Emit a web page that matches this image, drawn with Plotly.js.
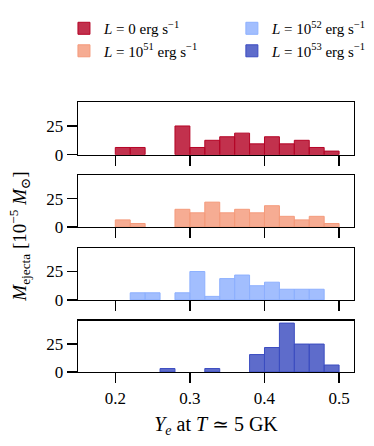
<!DOCTYPE html>
<html>
<head>
<meta charset="utf-8">
<script src="https://cdn.plot.ly/plotly-3.0.1.min.js"></script>
<style>
  body { margin: 0; background: #fff; }
  #plot { width: 374px; height: 446px; }
</style>
</head>
<body>
<div id="plot"></div>
<script>
// left edges of the Ye bins (width 0.02)
const yeBins = [0.20, 0.22, 0.24, 0.26, 0.28, 0.30, 0.32, 0.34, 0.36, 0.38, 0.40, 0.42, 0.44, 0.46, 0.48];
const binWidth = 0.02;

// ejected mass per bin, units of 1e-5 Msun
const massL0  = [6.25, 6.25, 0, 0, 25, 6.25, 12.5, 15.6, 18.75, 9.4, 15.6, 9.4, 12.5, 6.25, 3.1];
const massL51 = [6.25, 3.1, 0, 0, 15.6, 12.5, 21.9, 12.5, 15.6, 12.5, 18.75, 9.4, 6.25, 9.4, 3.1];
const massL52 = [0, 6.25, 6.25, 0, 6.25, 25, 3.1, 18.75, 21.9, 12.5, 15.6, 9.4, 9.4, 9.4, 0];
const massL53 = [0, 0, 0, 3.1, 0, 0, 3.1, 0, 0, 15.6, 21.9, 43.75, 25, 25, 6.25];

const seriesNames = [
  '<i>L</i> = 0 erg s<sup>−1</sup>',
  '<i>L</i> = 10<sup>51</sup> erg s<sup>−1</sup>',
  '<i>L</i> = 10<sup>52</sup> erg s<sup>−1</sup>',
  '<i>L</i> = 10<sup>53</sup> erg s<sup>−1</sup>'
];
const seriesColors = ['180,4,38', '244,154,123', '141,176,254', '59,76,192'];
const seriesData = [massL0, massL51, massL52, massL53];
const legendFor = ['legend', 'legend', 'legend2', 'legend2'];

const FONT = 'Liberation Serif, DejaVu Serif, serif';

const traces = seriesData.map((vals, i) => ({
  type: 'bar',
  x: yeBins,
  // empty bins are not drawn at all
  y: vals.map(v => (v === 0 ? null : v)),
  width: binWidth,
  offset: 0,
  name: seriesNames[i],
  legend: legendFor[i],
  xaxis: i === 0 ? 'x' : 'x' + (i + 1),
  yaxis: i === 0 ? 'y' : 'y' + (i + 1),
  marker: {
    color: 'rgba(' + seriesColors[i] + ',0.82)',
    line: { color: 'rgb(' + seriesColors[i] + ')', width: 1 }
  },
  hoverinfo: 'skip'
}));

// panel domains (paper, bottom-up)
const domains = [[0.805, 1.0], [0.537, 0.730], [0.267, 0.460], [0.0, 0.190]];

const legendBase = {
  xref: 'container', yref: 'container',
  y: 0.973, xanchor: 'left', yanchor: 'top',
  font: { family: FONT, size: 15 },
  itemwidth: 30, tracegroupgap: 0,
  bgcolor: 'rgba(0,0,0,0)'
};

const layout = {
  width: 374,
  height: 446,
  margin: { l: 78, r: 20, t: 102, b: 74, autoexpand: false },
  paper_bgcolor: '#fff',
  plot_bgcolor: '#fff',
  font: { family: FONT, color: '#000', size: 16 },
  showlegend: true,
  bargap: 0,
  legend: Object.assign({}, legendBase, { x: 0.171 }),
  legend2: Object.assign({}, legendBase, { x: 0.620 }),
  annotations: [{
    xref: 'paper', yref: 'paper',
    x: -0.215, y: 0.5,
    xanchor: 'center', yanchor: 'middle',
    textangle: -90,
    showarrow: false,
    text: '<i>M</i><sub>ejecta</sub> [10<sup>−5</sup> <i>M</i><sub>⊙</sub>]',
    font: { family: FONT, size: 19 }
  }]
};

for (let i = 0; i < 4; i++) {
  const sx = i === 0 ? '' : String(i + 1);
  layout['xaxis' + sx] = {
    anchor: 'y' + sx,
    range: [0.15, 0.52],
    tickvals: [0.2, 0.3, 0.4, 0.5],
    showticklabels: i === 3,
    ticks: 'outside', ticklen: 10, tickwidth: 1.3, tickcolor: '#000',
    showline: true, linecolor: '#000', linewidth: 1.3, mirror: true,
    showgrid: false, zeroline: false,
    tickfont: { family: FONT, size: 17 }
  };
  layout['yaxis' + sx] = {
    anchor: 'x' + sx,
    domain: domains[i],
    range: [0, 45.9],
    tickvals: [0, 25],
    ticks: 'outside', ticklen: 10, tickwidth: 1.3, tickcolor: '#000',
    showline: true, linecolor: '#000', linewidth: 1.3, mirror: true,
    showgrid: false, zeroline: false,
    tickfont: { family: FONT, size: 17 }
  };
}
layout.xaxis4.title = {
  text: '<i>Y<sub>e</sub></i> at <i>T</i> ≃ 5 GK',
  font: { family: FONT, size: 20 },
  standoff: 10
};

Plotly.newPlot('plot', traces, layout, { displayModeBar: false, staticPlot: true });
</script>
</body>
</html>
